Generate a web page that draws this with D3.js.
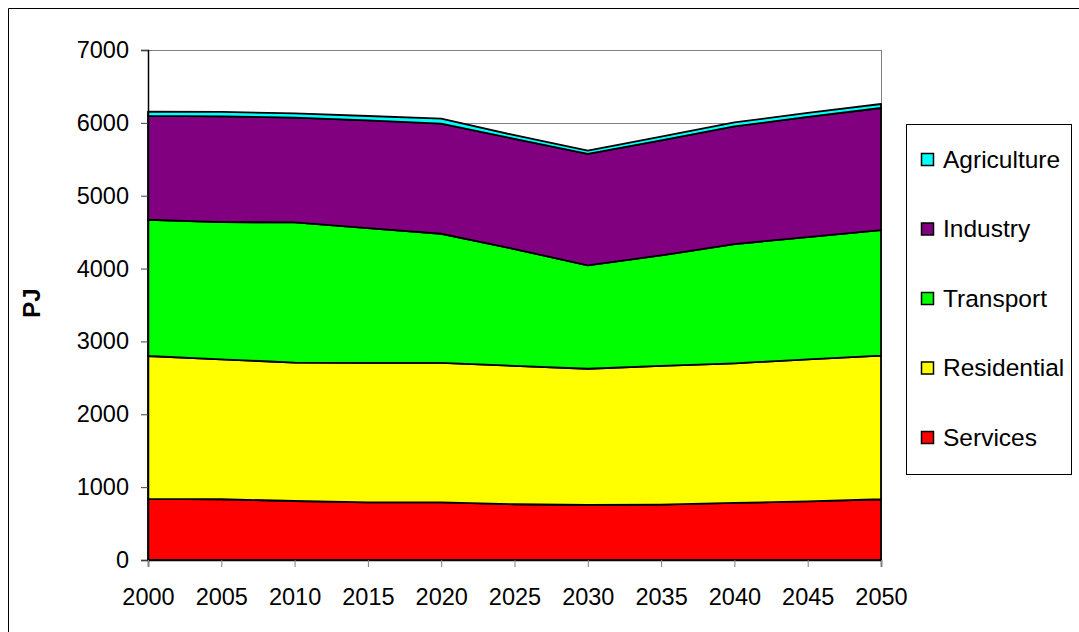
<!DOCTYPE html>
<html>
<head>
<meta charset="utf-8">
<script src="https://cdn.jsdelivr.net/npm/d3@7"></script>
<style>
  body { margin: 0; background: #fff; }
  text { font-family: "Liberation Sans", Arial, sans-serif; fill: #000; }
</style>
</head>
<body>
<div id="chart"></div>
<script>
// data (PJ)
var years = [2000, 2005, 2010, 2015, 2020, 2025, 2030, 2035, 2040, 2045, 2050];
var services = [838, 834, 810, 792, 790, 765, 755, 760, 783, 806, 834];
var residential = [1962, 1921, 1900, 1913, 1915, 1900, 1870, 1905, 1917, 1949, 1971];
var transport = [1870, 1883, 1923, 1851, 1773, 1603, 1418, 1515, 1636, 1678, 1724];
var industry = [1425, 1452, 1438, 1478, 1511, 1512, 1530, 1580, 1616, 1648, 1675];
var agriculture = [60, 60, 60, 60, 70, 50, 45, 50, 55, 55, 55];
var yTicks = [0, 1000, 2000, 3000, 4000, 5000, 6000, 7000];

var seriesNames = ["Services", "Residential", "Transport", "Industry", "Agriculture"];
var seriesColors = ["#ff0000", "#ffff00", "#00ff00", "#800080", "#00ffff"];
var seriesValues = [services, residential, transport, industry, agriculture];

var svgWidth = 1079;
var svgHeight = 632;

var margin = { top: 50, left: 148 };
var width = 733;
var height = 510;

var svg = d3.select("#chart")
  .append("svg")
  .attr("width", svgWidth)
  .attr("height", svgHeight);

// outer chart border (cropped at right/bottom)
svg.append("path")
  .attr("d", "M8.5," + svgHeight + "V8.5H" + svgWidth)
  .attr("fill", "none")
  .attr("stroke", "#000")
  .attr("stroke-width", 1);

var chartGroup = svg.append("g")
  .attr("transform", `translate(${margin.left}, ${margin.top})`);

var xScale = d3.scalePoint()
  .domain(years)
  .range([0, width]);

var yScale = d3.scaleLinear()
  .domain([0, 7000])
  .range([height, 0]);

// build table for stacking
var table = years.map(function(yr, i) {
  var row = { year: yr };
  seriesNames.forEach(function(name, j) {
    row[name] = seriesValues[j][i];
  });
  return row;
});

var stacked = d3.stack().keys(seriesNames)(table);

// gridlines
chartGroup.selectAll(".grid")
  .data(yTicks.slice(1))
  .enter()
  .append("line")
  .attr("x1", 0)
  .attr("x2", width)
  .attr("y1", d => Math.round(yScale(d)) + 0.5)
  .attr("y2", d => Math.round(yScale(d)) + 0.5)
  .attr("stroke", "#808080")
  .attr("stroke-width", 1);

// right border of plot area
chartGroup.append("line")
  .attr("x1", width + 0.5)
  .attr("x2", width + 0.5)
  .attr("y1", 0)
  .attr("y2", height)
  .attr("stroke", "#808080");

var area = d3.area()
  .x(d => xScale(d.data.year))
  .y0(d => yScale(d[0]))
  .y1(d => yScale(d[1]));

chartGroup.selectAll(".layer")
  .data(stacked)
  .enter()
  .append("path")
  .attr("class", "layer")
  .attr("d", area)
  .attr("fill", (d, i) => seriesColors[i])
  .attr("stroke", "#000")
  .attr("stroke-width", 1.8)
  .attr("stroke-linejoin", "round");

// axes
var leftAxis = d3.axisLeft(yScale)
  .tickValues(yTicks)
  .tickSize(7)
  .tickPadding(12)
  .tickFormat(d3.format("d"));

var yAxis = chartGroup.append("g")
  .call(leftAxis);
yAxis.select(".domain").attr("stroke", "#000").attr("stroke-width", 1.5);
yAxis.selectAll(".tick line").attr("stroke", "#404040");
yAxis.selectAll("text")
  .style("font-size", "23.5px")
  .attr("fill", "#000");

var bottomAxis = d3.axisBottom(xScale)
  .tickSize(7)
  .tickPadding(21);

var xAxis = chartGroup.append("g")
  .attr("transform", `translate(0, ${height})`)
  .call(bottomAxis);
xAxis.select(".domain").attr("stroke", "#000").attr("stroke-width", 1.5);
xAxis.selectAll(".tick line").attr("stroke", "#808080");
xAxis.selectAll("text")
  .style("font-size", "23.5px")
  .attr("fill", "#000");

// y axis title
svg.append("text")
  .attr("transform", "translate(40, 303) rotate(-90)")
  .attr("text-anchor", "middle")
  .style("font-size", "24px")
  .style("font-weight", "bold")
  .text("PJ");

// legend
var legend = svg.append("g");
legend.append("rect")
  .attr("x", 906.5)
  .attr("y", 124.5)
  .attr("width", 165)
  .attr("height", 350)
  .attr("fill", "#fff")
  .attr("stroke", "#000");

var legendOrder = seriesNames.slice().reverse();
var legendColors = seriesColors.slice().reverse();

var items = legend.selectAll(".item")
  .data(legendOrder)
  .enter()
  .append("g")
  .attr("transform", (d, i) => `translate(921, ${159 + i * 69.5})`);

items.append("rect")
  .attr("x", 0.5)
  .attr("y", -5.5)
  .attr("width", 12)
  .attr("height", 12)
  .attr("fill", (d, i) => legendColors[i])
  .attr("stroke", "#000")
  .attr("stroke-width", 1.5);

items.append("text")
  .attr("x", 22)
  .attr("y", 8.5)
  .style("font-size", "24.5px")
  .text(d => d);
</script>
</body>
</html>
